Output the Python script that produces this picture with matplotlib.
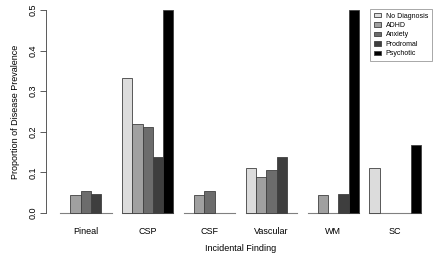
import numpy as np
import matplotlib
matplotlib.use('Agg')
import matplotlib.pyplot as plt
from matplotlib.patches import Patch

plt.rcParams['font.family'] = ['Liberation Sans', 'DejaVu Sans']

findings = ['Pineal', 'CSP', 'CSF', 'Vascular', 'WM', 'SC']
groups = ['No Diagnosis', 'ADHD', 'Anxiety', 'Prodromal', 'Psychotic']
no_dx = [0.0, 0.333, 0.0, 0.111, 0.0, 0.111]
adhd = [0.044, 0.218, 0.044, 0.088, 0.044, 0.0]
anxiety = [0.053, 0.211, 0.053, 0.106, 0.0, 0.0]
prodromal = [0.046, 0.137, 0.0, 0.137, 0.046, 0.0]
psychotic = [0.0, 0.5, 0.0, 0.0, 0.5, 0.167]
series = [no_dx, adhd, anxiety, prodromal, psychotic]
colors = ['#dcdcdc', '#a0a0a0', '#6c6c6c', '#3e3e3e', '#000000']

fig = plt.figure(figsize=(4.4, 2.62), dpi=100)
ax = fig.add_axes([0.1036, 0.1565, 0.886, 0.836])

# R-style beside barplot: each group preceded by one empty bar slot
nb = len(groups)
for g in range(len(findings)):
    start = 1 + g * (nb + 1)
    ax.plot([start, start + nb], [0, 0], color='#808080', lw=0.8, zorder=1)
    for k in range(nb):
        v = series[k][g]
        if v > 0:
            ax.bar(start + k + 0.5, v, width=1, color=colors[k],
                   edgecolor='#404040', linewidth=0.6, zorder=2)

centers = [1 + g * (nb + 1) + nb / 2 for g in range(len(findings))]
ax.set_xlim(1 - 1.4, 36 + 1.4)
ax.set_ylim(-0.02, 0.52)
ax.set_xticks(centers)
ax.set_xticklabels(findings, fontsize=6.5)
ax.tick_params(axis='x', length=0, pad=4)
ax.set_yticks([0, 0.1, 0.2, 0.3, 0.4, 0.5])
ax.set_yticklabels(['0.0', '0.1', '0.2', '0.3', '0.4', '0.5'], rotation=90,
                   va='center', fontsize=6.5)
ax.tick_params(axis='y', length=4, width=0.6, color='#404040', pad=2)
for s in ['top', 'right', 'bottom']:
    ax.spines[s].set_visible(False)
ax.spines['left'].set_bounds(0, 0.5)
ax.spines['left'].set_linewidth(0.6)
ax.spines['left'].set_color('#404040')
ax.set_xlabel('Incidental Finding', fontsize=6.5, labelpad=6)
ax.set_ylabel('Proportion of Disease Prevalence', fontsize=6.5, labelpad=6)

handles = [Patch(facecolor=c, edgecolor='#404040', linewidth=0.6) for c in colors]
leg = ax.legend(handles, groups, loc='upper right', bbox_to_anchor=(1.0, 0.985),
                fontsize=5, frameon=True, fancybox=False, edgecolor='#808080',
                handlelength=1.0, handleheight=0.6, handletextpad=0.7,
                labelspacing=0.35, borderpad=0.55)
leg.get_frame().set_linewidth(0.6)

fig.savefig('out.png', dpi=100)
